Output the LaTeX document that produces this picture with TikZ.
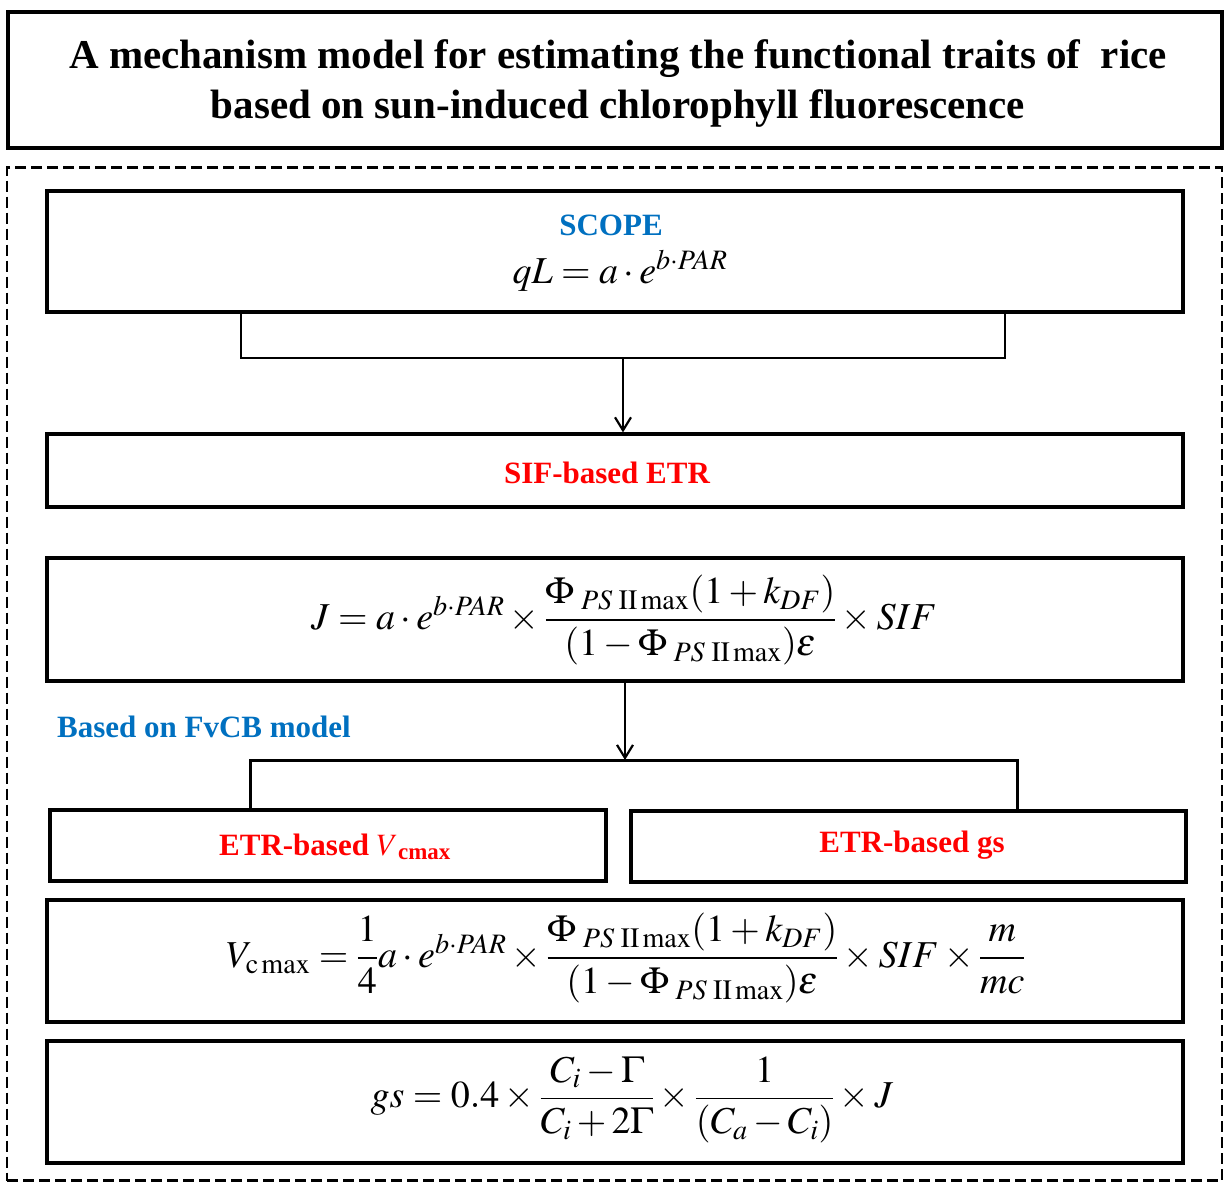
\documentclass[tikz,border=0pt]{standalone}
\usepackage{amsmath}
\usepackage{mathptmx}
\usepackage{fontspec}
\setmainfont{Liberation Serif}
\usetikzlibrary{arrows.meta}
\definecolor{ttlblue}{RGB}{0,112,192}
\definecolor{ttlred}{RGB}{255,0,0}
\newcommand{\psmax}{\;PS\;\mathrm{II}\,\mathrm{max}}
\tikzset{
  box/.style={draw=black, line width=3.2pt, inner sep=0pt, fill=white},
  frame/.style={draw=black, line width=2.4pt, dash pattern=on 11pt off 5pt, inner sep=0pt},
  bracket/.style={draw=black, line width=2.6pt},
  arr/.style={draw=black, line width=2.2pt, -{Straight Barb[length=13pt,width=16pt,line width=2.2pt]}},
  lab/.style={inner sep=0pt, font=\fontsize{31}{36}\selectfont\bfseries},
  eq/.style={inner sep=0pt, font=\fontsize{38}{44}\selectfont},
  ttl/.style={inner sep=0pt, align=center, font=\fontsize{41}{50}\selectfont\bfseries}
}
\begin{document}
\begin{tikzpicture}[x=1pt,y=-1pt]
\useasboundingbox (0,0) rectangle (1225,1184);
% title
\node[box, line width=3.6pt, minimum width=1214pt, minimum height=136pt] (title) at (615,80) {};
\node[ttl] (ttltext) at (618,83) {A mechanism model for estimating the functional traits of\ \ rice\\based on sun-induced chlorophyll fluorescence};
% dashed frame
\node[frame, minimum width=1215pt, minimum height=1013pt] (frm) at (614.5,674) {};
% boxes
\node[box, minimum width=1136pt, minimum height=121pt] (scope) at (615,251.5) {};
\node[box, minimum width=1136pt, minimum height=73pt] (sif) at (615,470.5) {};
\node[box, minimum width=1136pt, minimum height=123pt] (jbox) at (615,619.5) {};
\node[box, minimum width=556pt, minimum height=71pt] (vbox) at (328,845.5) {};
\node[box, minimum width=555pt, minimum height=71pt] (gbox) at (908.5,846.5) {};
\node[box, minimum width=1136pt, minimum height=122pt] (vcbox) at (615,961) {};
\node[box, minimum width=1136pt, minimum height=122pt] (gsbox) at (615,1102) {};
% texts
\node[lab, text=ttlblue] (scopetxt) at (611,225) {SCOPE};
\node[eq] (qleq) at (620,271) {$qL = a\cdot e^{b\cdot PAR}$};
\node[lab, text=ttlred] (siftxt) at (607,473) {SIF-based ETR};
\node[eq] (jeq) at (624,620) {$J = a\cdot e^{b\cdot PAR}\times\dfrac{\Phi_{\psmax}(1+k_{DF})}{(1-\Phi_{\psmax})\varepsilon}\times SIF$};
\node[lab, text=ttlblue, anchor=west] (fvcb) at (57,727) {Based on FvCB model};
\node[lab, text=ttlred] (vtxt) at (335,847) {ETR-based $\boldsymbol{V}_{\textbf{cmax}}$};
\node[lab, text=ttlred] (gtxt) at (912,845) {ETR-based gs};
\node[eq] (vceq) at (626,958) {$V_{\mathrm{c\,max}} = \dfrac{1}{4}a\cdot e^{b\cdot PAR}\times\dfrac{\Phi_{\psmax}(1+k_{DF})}{(1-\Phi_{\psmax})\varepsilon}\times SIF\times\dfrac{m}{mc}$};
\node[eq] (gseq) at (632,1100) {$gs = 0.4\times\dfrac{C_i-\Gamma}{C_i+2\Gamma}\times\dfrac{1}{(C_a-C_i)}\times J$};
% connectors
\coordinate (b1) at (241,358);
\coordinate (b2) at (1005,358);
\coordinate (m1) at (623,358);
\draw[bracket] (scope.south -| b1) -- (b1) -- (b2) -- (scope.south -| b2);
\draw[arr] (m1) -- (m1 |- sif.north);
\coordinate (c1) at (250,760);
\coordinate (c2) at (1017,760);
\coordinate (m2) at (625,760);
\draw[bracket, line width=3pt] (c1 |- vbox.north) -- (c1) -- (c2) -- (c2 |- gbox.north);
\draw[arr] (m2 |- jbox.south) -- (m2);
\end{tikzpicture}
\end{document}
